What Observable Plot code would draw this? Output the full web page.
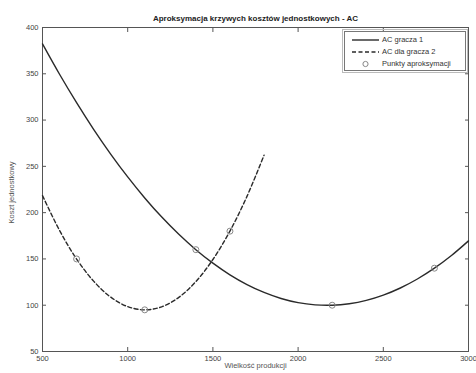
<!DOCTYPE html>
<html><head><meta charset="utf-8">
<script src="https://cdn.jsdelivr.net/npm/d3@7"></script>
<script src="https://cdn.jsdelivr.net/npm/@observablehq/plot@0.6"></script>
<style>
body{margin:0;background:#fff;}
#wrap{position:relative;width:476px;height:373px;font-family:"Liberation Sans",Arial,sans-serif;}
#legend{position:absolute;left:344px;top:31px;width:120px;height:38px;border:1px solid #777;outline:1px solid #bbb;outline-offset:1px;background:#fff;font-size:7.5px;color:#333;}
#legend .row{position:absolute;left:0;height:10px;width:120px;}
#legend svg{position:absolute;left:7px;top:0;}
#legend span{position:absolute;left:37px;top:0;line-height:10px;white-space:nowrap;}
</style></head><body><div id="wrap"><div id="legend"></div></div>
<script>
const titleText = "Aproksymacja krzywych kosztów jednostkowych - AC";
const xLabel = "Wielkość produkcji";
const yLabel = "Koszt jednostkowy";
const legendLabels = ["AC gracza 1", "AC dla gracza 2", "Punkty aproksymacji"];

const xTicks = [500, 1000, 1500, 2000, 2500, 3000];
const yTicks = [50, 100, 150, 200, 250, 300, 350, 400];

// AC gracza 1 (solid curve)
const x1 = [500,600,700,800,900,1000,1100,1200,1300,1400,1500,1600,1700,1800,1900,2000,2100,2200,2300,2400,2500,2600,2700,2800,2900,3000];
const ac1 = [382.3,349.5,318.8,290.0,263.3,238.6,215.9,195.2,176.6,160.0,145.4,132.8,122.3,113.8,107.3,102.8,100.4,100.0,101.6,105.2,110.9,118.6,128.3,140.0,153.7,169.5];

// AC dla gracza 2 (dashed curve)
const x2 = [500,600,700,800,900,1000,1100,1200,1300,1400,1500,1600,1700,1800];
const ac2 = [218.4,180.8,149.9,126.0,108.8,98.5,95.0,98.3,108.5,125.5,149.4,180.1,217.6,262.0];

// Punkty aproksymacji
const px = [1400, 2200, 2800, 700, 1100, 1600];
const py = [160, 100, 140, 150, 95, 180];

const line1 = x1.map((x, i) => ({x, y: ac1[i]}));
const line2 = x2.map((x, i) => ({x, y: ac2[i]}));
const pts = px.map((x, i) => ({x, y: py[i]}));

const ink = "#2a2a2a";
const noText = () => "";
const plain = d => String(d);
const chart = Plot.plot({
  width: 476, height: 373,
  marginTop: 27, marginLeft: 42, marginRight: 8, marginBottom: 22,
  style: {fontFamily: "'Liberation Sans', Arial, sans-serif", fontSize: "7.5px", color: "#333", background: "#fff"},
  x: {domain: [500, 3000]},
  y: {domain: [50, 400]},
  marks: [
    Plot.frame({stroke: "#555"}),
    Plot.axisX({anchor: "bottom", ticks: xTicks, tickSize: 4, dy: -4, tickPadding: 4, tickFormat: plain, label: null, stroke: "#555", fill: "#444"}),
    Plot.axisX({anchor: "top", ticks: xTicks, tickSize: 4, dy: 4, tickFormat: noText, label: null, stroke: "#555"}),
    Plot.axisY({anchor: "left", ticks: yTicks, tickSize: 4, dx: 4, tickPadding: 4, tickFormat: plain, label: null, stroke: "#555", fill: "#444"}),
    Plot.axisY({anchor: "right", ticks: yTicks, tickSize: 4, dx: -4, tickFormat: noText, label: null, stroke: "#555"}),
    Plot.line(line1, {x: "x", y: "y", stroke: ink, strokeWidth: 1.4, curve: "catmull-rom"}),
    Plot.line(line2, {x: "x", y: "y", stroke: ink, strokeWidth: 1.4, strokeDasharray: "4,2.5", curve: "catmull-rom"}),
    Plot.dot(pts, {x: "x", y: "y", r: 3, stroke: "#888", strokeWidth: 1, fill: "none"}),
    Plot.text([titleText], {frameAnchor: "top", dy: -12, fontWeight: "bold", fontSize: 8, fill: "#222"}),
    Plot.text([xLabel], {frameAnchor: "bottom", dy: 16, fontSize: 7.5, fill: "#555"}),
    Plot.text([yLabel], {frameAnchor: "left", dx: -31, dy: 34, rotate: -90, fontSize: 7.5, fill: "#555"})
  ]
});
document.getElementById("wrap").prepend(chart);

// legend
const legend = document.getElementById("legend");
const rowsY = [3, 15, 27];
const samples = [
  `<line x1="0" y1="5" x2="27" y2="5" stroke="${ink}" stroke-width="1.4"/>`,
  `<line x1="0" y1="5" x2="27" y2="5" stroke="${ink}" stroke-width="1.4" stroke-dasharray="4,2.5"/>`,
  `<circle cx="13.5" cy="5" r="2.6" stroke="#888" fill="none"/>`
];
legendLabels.forEach((lab, i) => {
  const row = document.createElement("div");
  row.className = "row";
  row.style.top = rowsY[i] + "px";
  row.innerHTML = `<svg width="28" height="10">${samples[i]}</svg><span>${lab}</span>`;
  legend.appendChild(row);
});
</script>
</body></html>
